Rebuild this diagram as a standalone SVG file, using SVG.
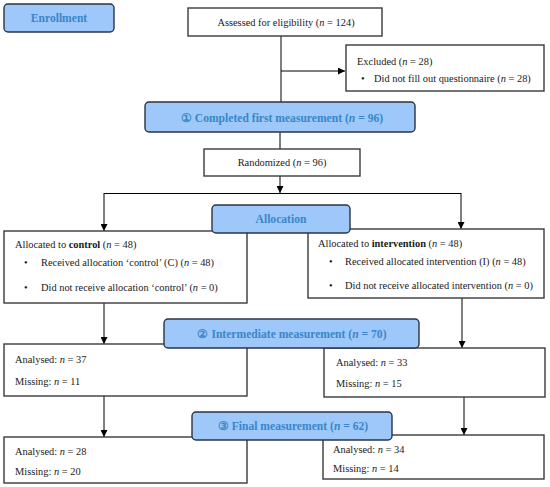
<svg xmlns="http://www.w3.org/2000/svg" width="550" height="487" viewBox="0 0 550 487">
<defs>
<marker id="ah" viewBox="0 0 10 10" refX="10" refY="5" markerWidth="7" markerHeight="7" markerUnits="userSpaceOnUse" orient="auto">
<path d="M0,0 L10,5 L0,10 z" fill="#000"/>
</marker>
<style>
.box{fill:#fff;stroke:#3a3a3a;stroke-width:1.4}
.lab{fill:#9dc8f9;stroke:#2b3440;stroke-width:1.4}
.t{font-family:"Liberation Serif","DejaVu Serif",serif;font-size:10.4px;fill:#1a1a1a}
.h{font-family:"Liberation Serif","DejaVu Serif",serif;font-size:11.6px;font-weight:bold;fill:#3a86c8;text-anchor:middle}
.c{fill:none;stroke:#000;stroke-width:1}
.a{fill:none;stroke:#000;stroke-width:1;marker-end:url(#ah)}
</style>
</defs>
<rect width="550" height="487" fill="#fff"/>
<g id="connectors">
<line class="c" x1="281" y1="36" x2="281" y2="102"/>
<line class="a" x1="281" y1="71" x2="345" y2="71"/>
<line class="c" x1="280" y1="132" x2="280" y2="149"/>
<line class="a" x1="280" y1="176" x2="280" y2="193"/>
<line class="c" x1="104" y1="193.5" x2="461" y2="193.5"/>
<line class="a" x1="104" y1="193" x2="104" y2="231"/>
<line class="a" x1="461" y1="193" x2="461" y2="229"/>
<line class="a" x1="104" y1="303" x2="104" y2="344"/>
<line class="a" x1="462" y1="298" x2="462" y2="348"/>
<line class="a" x1="104" y1="396" x2="104" y2="437"/>
<line class="a" x1="464" y1="397" x2="464" y2="435"/>
</g>
<g id="enrollment">
<rect class="lab" x="4" y="4" width="110" height="28" rx="4"/>
<text class="h" x="59" y="22">Enrollment</text>
</g>
<g id="assessed">
<rect class="box" x="188" y="8" width="194" height="28"/>
<text class="t" x="286" y="26" text-anchor="middle">Assessed for eligibility (<tspan font-style="italic">n</tspan> = 124)</text>
</g>
<g id="excluded">
<rect class="box" x="346" y="45" width="198" height="46"/>
<text class="t" x="357" y="65">Excluded (<tspan font-style="italic">n</tspan> = 28)</text>
<text class="t" x="361" y="82">•</text>
<text class="t" x="374" y="82">Did not fill out questionnaire (<tspan font-style="italic">n</tspan> = 28)</text>
</g>
<g id="first-measurement">
<rect class="lab" x="145" y="102" width="270" height="30" rx="4"/>
<text class="h" x="282" y="122">① Completed first measurement (<tspan font-style="italic">n</tspan> = 96)</text>
</g>
<g id="randomized">
<rect class="box" x="204" y="149" width="156" height="27"/>
<text class="t" x="282" y="166" text-anchor="middle">Randomized (<tspan font-style="italic">n</tspan> = 96)</text>
</g>
<g id="control">
<rect class="box" x="4" y="231" width="243" height="72"/>
<text class="t" x="15" y="248">Allocated to <tspan font-weight="bold">control</tspan> (<tspan font-style="italic">n</tspan> = 48)</text>
<text class="t" x="24" y="266">•</text>
<text class="t" x="41" y="266">Received allocation ‘control’ (C) (<tspan font-style="italic">n</tspan> = 48)</text>
<text class="t" x="24" y="291">•</text>
<text class="t" x="41" y="291">Did not receive allocation ‘control’ (<tspan font-style="italic">n</tspan> = 0)</text>
</g>
<g id="intervention">
<rect class="box" x="308" y="229" width="236" height="69"/>
<text class="t" x="318" y="247">Allocated to <tspan font-weight="bold">intervention</tspan> (<tspan font-style="italic">n</tspan> = 48)</text>
<text class="t" x="329" y="265">•</text>
<text class="t" x="345" y="265">Received allocated intervention (I) (<tspan font-style="italic">n</tspan> = 48)</text>
<text class="t" x="329" y="289">•</text>
<text class="t" x="345" y="289">Did not receive allocated intervention (<tspan font-style="italic">n</tspan> = 0)</text>
</g>
<g id="allocation">
<rect class="lab" x="212" y="205" width="138" height="28" rx="4"/>
<text class="h" x="281" y="223">Allocation</text>
</g>
<g id="control-intermediate">
<rect class="box" x="4" y="344" width="243" height="52"/>
<text class="t" x="15" y="363">Analysed: <tspan font-style="italic">n</tspan> = 37</text>
<text class="t" x="15" y="385">Missing: <tspan font-style="italic">n</tspan> = 11</text>
</g>
<g id="intervention-intermediate">
<rect class="box" x="324" y="348" width="221" height="49"/>
<text class="t" x="336" y="366">Analysed: <tspan font-style="italic">n</tspan> = 33</text>
<text class="t" x="336" y="387">Missing: <tspan font-style="italic">n</tspan> = 15</text>
</g>
<g id="intermediate-measurement">
<rect class="lab" x="164" y="319" width="255" height="29" rx="4"/>
<text class="h" x="292" y="338">② Intermediate measurement (<tspan font-style="italic">n</tspan> = 70)</text>
</g>
<g id="control-final">
<rect class="box" x="4" y="437" width="243" height="46"/>
<text class="t" x="15" y="455">Analysed: <tspan font-style="italic">n</tspan> = 28</text>
<text class="t" x="15" y="475">Missing: <tspan font-style="italic">n</tspan> = 20</text>
</g>
<g id="intervention-final">
<rect class="box" x="323" y="435" width="221" height="44"/>
<text class="t" x="333" y="453">Analysed: <tspan font-style="italic">n</tspan> = 34</text>
<text class="t" x="333" y="472">Missing: <tspan font-style="italic">n</tspan> = 14</text>
</g>
<g id="final-measurement">
<rect class="lab" x="192" y="412" width="200" height="28" rx="4"/>
<text class="h" x="293" y="430">③ Final measurement (<tspan font-style="italic">n</tspan> = 62)</text>
</g>
</svg>
